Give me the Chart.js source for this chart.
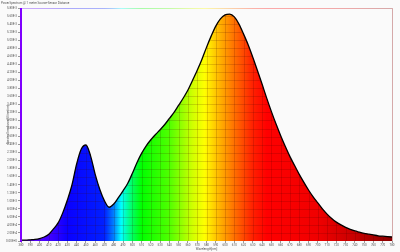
<!DOCTYPE html>
<html>
<head>
<meta charset="utf-8">
<script src="https://cdn.jsdelivr.net/npm/chart.js@4/dist/chart.umd.min.js"></script>
<style>
  html, body { margin: 0; padding: 0; background: #fafafa; }
  #wrap { width: 400px; height: 252px; position: relative; }
</style>
</head>
<body>
<div id="wrap"><canvas id="spec"></canvas></div>
<script>
  // Power spectrum (nm -> W/m²/nm)
  const chartTitle = 'PowerSpectrum @ 1 meter Source-Sensor Distance';
  const xTitle = 'Wavelength[nm]';
  const yTitle = 'Spectral Irradiance[W/m²/nm]';

  const wavelengths = [
    380, 385, 390, 395, 400, 405, 410, 415, 420, 425, 430, 435, 440, 445, 450, 455, 460,
    465, 470, 475, 480, 485, 490, 495, 500, 505, 510, 515, 520, 525, 530, 535, 540,
    545, 550, 555, 560, 565, 570, 575, 580, 585, 590, 595, 600, 605, 610, 615, 620,
    625, 630, 635, 640, 645, 650, 655, 660, 665, 670, 675, 680, 685, 690, 695, 700,
    705, 710, 715, 720, 725, 730, 735, 740, 745, 750, 755, 760, 765, 770, 775, 780
  ];
  const irradiance = [
    0.00002, 0.00002, 0.00003, 0.00004, 0.00006, 0.00010, 0.00017, 0.00030, 0.00045, 0.00070,
    0.00102, 0.00140, 0.00192, 0.00229, 0.00239, 0.00212, 0.00166, 0.00128, 0.00100, 0.00084,
    0.00092, 0.00108, 0.00125, 0.00143, 0.00168, 0.00195, 0.00218, 0.00237, 0.00252, 0.00265,
    0.00277, 0.00290, 0.00305, 0.00320, 0.00338, 0.00356, 0.00376, 0.00400, 0.00425, 0.00452,
    0.00482, 0.00510, 0.00535, 0.00553, 0.00563, 0.00565, 0.00558, 0.00540, 0.00515, 0.00488,
    0.00457, 0.00424, 0.00390, 0.00355, 0.00322, 0.00291, 0.00262, 0.00235, 0.00210, 0.00188,
    0.00166, 0.00146, 0.00127, 0.00110, 0.00095, 0.00080, 0.00067, 0.00056, 0.00047, 0.00040,
    0.00034, 0.00029, 0.00025, 0.00022, 0.00019, 0.00017, 0.00015, 0.00013, 0.00012, 0.00011,
    0.00010
  ];

  const xMin = 380, xMax = 780, xStep = 10;
  const yMin = 0, yMax = 0.0058, yStep = 0.0002;

  // spectrum colour stops [nm, colour]
  const spectrumStops = [
    [380, '#6a00ff'], [410, '#4400ff'], [430, '#0a00ff'], [470, '#0020ff'], [480, '#0080ff'],
    [488, '#00ffff'], [500, '#00ff60'], [510, '#00ff00'], [540, '#50ff00'], [565, '#d0ff00'],
    [578, '#ffff00'], [595, '#ffb000'], [610, '#ff7000'], [630, '#ff2000'], [645, '#ff0000'],
    [700, '#f00000'], [740, '#c80000'], [780, '#8a0000']
  ];

  const FONT = 'Roboto, "DejaVu Sans", sans-serif';

  function alpha(hex, a) {
    const h = hex.replace('#', '');
    const r = parseInt(h.slice(0, 2), 16), g = parseInt(h.slice(2, 4), 16), b = parseInt(h.slice(4, 6), 16);
    return `rgba(${r},${g},${b},${a})`;
  }

  function spectrumGradient(chart, a) {
    const xs = chart.scales.x;
    const g = chart.ctx.createLinearGradient(xs.getPixelForValue(xMin), 0, xs.getPixelForValue(xMax), 0);
    spectrumStops.forEach(([nm, c]) => {
      g.addColorStop((nm - xMin) / (xMax - xMin), a == null ? c : alpha(c, a));
    });
    return g;
  }

  // grid only shows on top of the coloured fill
  const fillGrid = {
    id: 'fillGrid',
    afterDatasetsDraw(chart) {
      const { ctx, chartArea: ca, scales: { x, y } } = chart;
      ctx.save();
      ctx.beginPath();
      ctx.rect(ca.left, ca.top, ca.right - ca.left, ca.bottom - ca.top);
      ctx.clip();
      ctx.globalCompositeOperation = 'source-atop';
      ctx.strokeStyle = 'rgba(60,0,0,0.16)';
      ctx.lineWidth = 1;
      ctx.beginPath();
      x.ticks.forEach(t => {
        const px = Math.round(x.getPixelForValue(t.value)) + 0.5;
        ctx.moveTo(px, ca.top); ctx.lineTo(px, ca.bottom);
      });
      y.ticks.forEach(t => {
        const py = Math.round(y.getPixelForValue(t.value)) + 0.5;
        ctx.moveTo(ca.left, py); ctx.lineTo(ca.right, py);
      });
      ctx.stroke();
      ctx.restore();
    }
  };

  // pale spectral frame, strong violet y-axis line, title text
  const frame = {
    id: 'frame',
    afterDraw(chart) {
      const { ctx, chartArea: ca } = chart;
      ctx.save();
      ctx.lineWidth = 1;
      ctx.strokeStyle = spectrumGradient(chart, 0.32);
      ctx.beginPath();
      ctx.moveTo(ca.left, ca.top + 0.5);
      ctx.lineTo(ca.right + 0.5, ca.top + 0.5);
      ctx.lineTo(ca.right + 0.5, ca.bottom);
      ctx.stroke();
      ctx.strokeStyle = '#7f00ff';
      ctx.lineWidth = 2;
      ctx.beginPath();
      ctx.moveTo(ca.left, ca.top);
      ctx.lineTo(ca.left, ca.bottom + 1);
      ctx.stroke();
      ctx.fillStyle = '#555';
      ctx.font = '3px ' + FONT;
      ctx.textBaseline = 'middle';
      ctx.textAlign = 'left';
      ctx.fillText(chartTitle, 1, 3);
      ctx.restore();
    }
  };

  const points = wavelengths.map((nm, i) => ({ x: nm, y: irradiance[i] }));

  new Chart(document.getElementById('spec'), {
    type: 'line',
    data: {
      datasets: [{
        data: points,
        borderColor: '#000',
        borderWidth: 1.3,
        cubicInterpolationMode: 'monotone',
        pointRadius: 0,
        fill: 'origin',
        backgroundColor: (c) => c.chart.chartArea ? spectrumGradient(c.chart) : '#00f',
      }]
    },
    options: {
      responsive: true,
      maintainAspectRatio: false,
      animation: false,
      layout: { padding: { top: 8, right: 8, bottom: 0, left: 0 } },
      plugins: { legend: { display: false }, tooltip: { enabled: false } },
      scales: {
        x: {
          type: 'linear', min: xMin, max: xMax,
          afterFit: (s) => { s.height = 11; },
          border: { display: false },
          grid: { display: true, drawOnChartArea: false, drawTicks: true, tickLength: 2, color: '#999' },
          ticks: {
            stepSize: xStep, autoSkip: false, maxRotation: 0, padding: 0,
            color: '#555', font: { family: FONT, size: 3 },
            callback: (v) => String(v),
          },
          title: { display: true, text: xTitle, color: '#555', font: { family: FONT, size: 3 }, padding: { top: 0, bottom: 1 } },
        },
        y: {
          min: yMin, max: yMax,
          afterFit: (s) => { s.width = 21; },
          border: { display: false },
          grid: { display: true, drawOnChartArea: false, drawTicks: true, tickLength: 3, color: '#999' },
          ticks: {
            stepSize: yStep, autoSkip: false, padding: 1,
            color: '#555', font: { family: FONT, size: 3 },
            callback: (v) => Number(v).toExponential(2).toUpperCase(),
          },
          title: { display: true, text: yTitle, color: '#555', font: { family: FONT, size: 3 }, padding: { top: 6, bottom: 0 } },
        },
      },
    },
    plugins: [fillGrid, frame],
  });
</script>
</body>
</html>
